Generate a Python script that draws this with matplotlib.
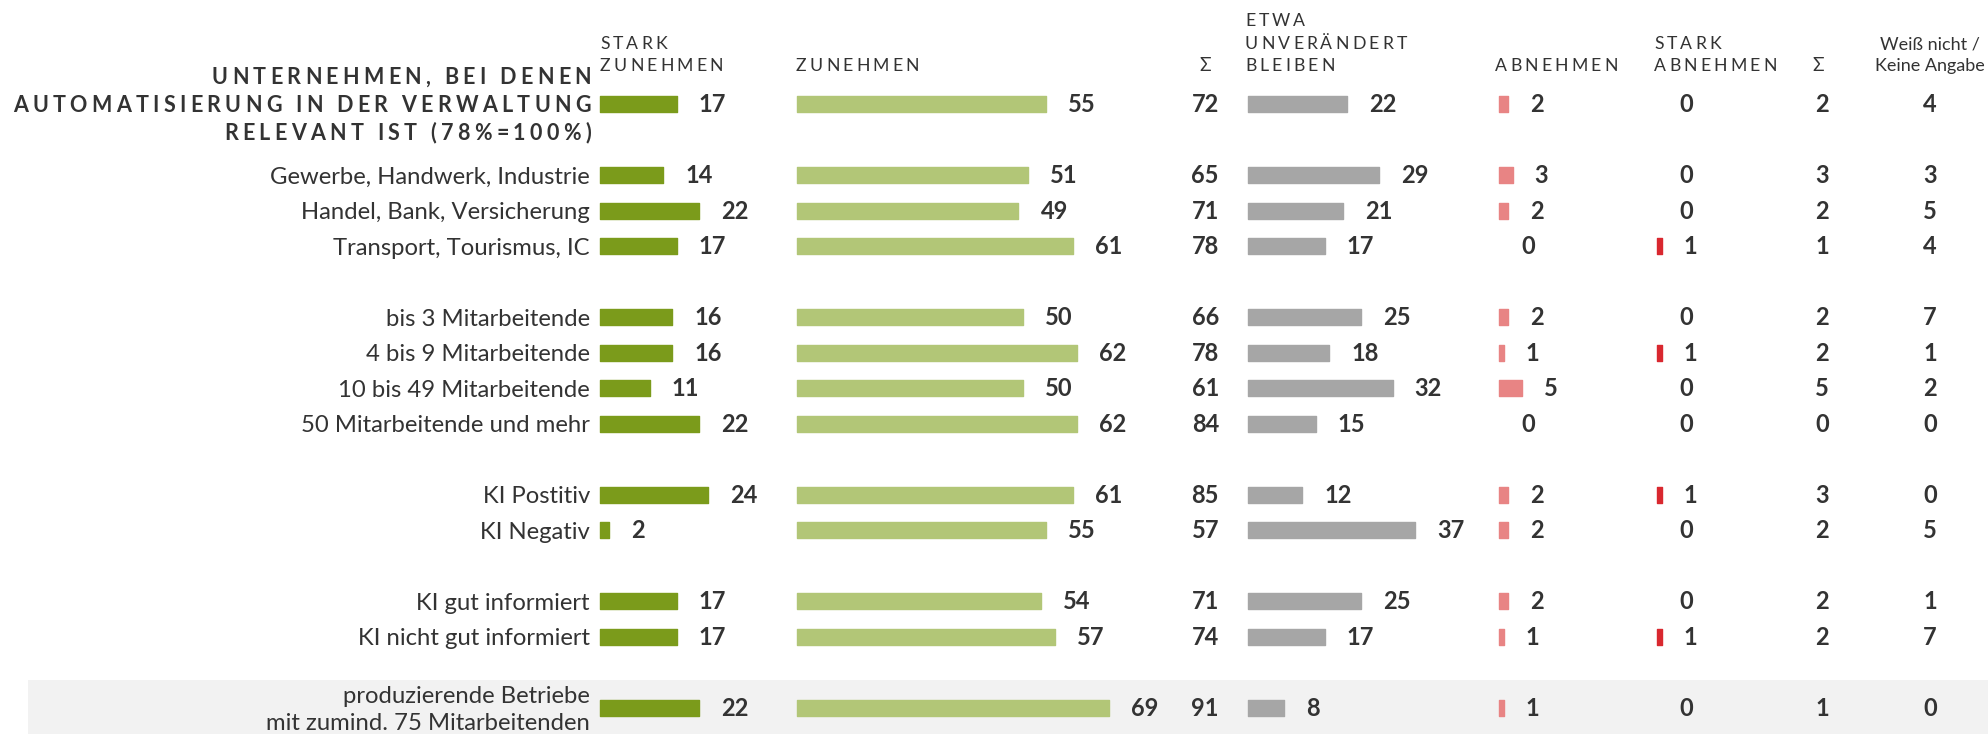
"""
Automatisierung in der Verwaltung: erwartete Entwicklung nach Gruppen.
"""

import matplotlib

matplotlib.use("Agg")
import matplotlib.pyplot as plt
import numpy as np
from matplotlib.font_manager import FontProperties, findfont, get_font
from matplotlib.patches import Rectangle

# --- data -------------------------------------------------------------------
TITLE_LINES = [
    "UNTERNEHMEN, BEI DENEN",
    "AUTOMATISIERUNG IN DER VERWALTUNG",
    "RELEVANT IST (78%=100%)",
]
categories = [
    None,  # first row is labelled by the title block
    "Gewerbe, Handwerk, Industrie",
    "Handel, Bank, Versicherung",
    "Transport, Tourismus, IC",
    "bis 3 Mitarbeitende",
    "4 bis 9 Mitarbeitende",
    "10 bis 49 Mitarbeitende",
    "50 Mitarbeitende und mehr",
    "KI Postitiv",
    "KI Negativ",
    "KI gut informiert",
    "KI nicht gut informiert",
    "produzierende Betriebe\nmit zumind. 75 Mitarbeitenden",
]
row_slots = [0, 2, 3, 4, 6, 7, 8, 9, 11, 12, 14, 15, 17]

stark_zunehmen = [17, 14, 22, 17, 16, 16, 11, 22, 24, 2, 17, 17, 22]
zunehmen = [55, 51, 49, 61, 50, 62, 50, 62, 61, 55, 54, 57, 69]
summe_zu = [72, 65, 71, 78, 66, 78, 61, 84, 85, 57, 71, 74, 91]
unveraendert = [22, 29, 21, 17, 25, 18, 32, 15, 12, 37, 25, 17, 8]
abnehmen = [2, 3, 2, 0, 2, 1, 5, 0, 2, 2, 2, 1, 1]
stark_abnehmen = [0, 0, 0, 1, 0, 1, 0, 0, 1, 0, 0, 1, 0]
summe_ab = [2, 3, 2, 1, 2, 2, 5, 0, 3, 2, 2, 2, 1]
weiss_nicht = [4, 3, 5, 4, 7, 1, 2, 0, 0, 5, 1, 7, 0]

# --- style ------------------------------------------------------------------
W, H, DPI = 1988, 734, 100
TEXT = "#333333"
DARK_GREEN = "#7b9b1b"
LIGHT_GREEN = "#b2c677"
GREY = "#a6a6a6"
PINK = "#e88484"
RED = "#d9282f"
BAND = "#f2f2f2"

PX_PER_PCT = 4.52
BAR_H = 16
PAD = 22
ROW0_Y = 104
ROW_STEP = 35.5
LABEL_RIGHT = 590

LABEL_SIZE = 17.2
NUM_SIZE = 17
HEAD_SIZE = 12.7
TITLE_SIZE = 15.5
CAP = 0.7165  # Lato cap height in em


def cap_px(size):
    return CAP * size * DPI / 72


def spaced_text(ax, x, y, text, size, weight="normal", tracking=0.0, ha="left"):
    """Draw letter-spaced text; y is the visual centre of the capitals."""
    prop = FontProperties(family="Lato", size=size, weight=weight)
    font = get_font(findfont(prop))
    font.set_size(size, DPI)
    advances = [font.load_char(ord(c)).linearHoriAdvance / 65536 for c in text]
    track = tracking * size * DPI / 72
    total = sum(advances) + track * (len(text) - 1)
    pen = {"left": x, "center": x - total / 2, "right": x - total}[ha]
    base = y + cap_px(size) / 2
    for ch, adv in zip(text, advances):
        if ch != " ":
            ax.text(pen, base, ch, fontproperties=prop, color=TEXT,
                    ha="left", va="baseline")
        pen += adv + track


fig = plt.figure(figsize=(W / DPI, H / DPI), dpi=DPI)
ax = fig.add_axes([0, 0, 1, 1])
ax.set_xlim(0, W)
ax.set_ylim(H, 0)
ax.axis("off")

row_y = ROW0_Y + ROW_STEP * np.array(row_slots)

# shaded last row
ax.add_patch(Rectangle((28, row_y[-1] - 28), W - 28, H - row_y[-1] + 28,
                       color=BAND, zorder=0, lw=0))

# bar columns: (values, left edge, colour)
bar_columns = [
    (stark_zunehmen, 600, DARK_GREEN),
    (zunehmen, 797, LIGHT_GREEN),
    (unveraendert, 1248, GREY),
    (abnehmen, 1499, PINK),
    (stark_abnehmen, 1657, RED),
]
for values, left, colour in bar_columns:
    widths = np.array(values) * PX_PER_PCT
    bars = ax.barh(row_y, widths, left=left, height=BAR_H, color=colour,
                   edgecolor=colour, linewidth=1.0, zorder=2)
    for b in bars:
        b.set_joinstyle("round")
        if b.get_width() == 0:
            b.set_visible(False)
    for yy, w, v in zip(row_y, widths, values):
        ax.text(left + w + PAD, yy + cap_px(NUM_SIZE) / 2, f"{v}",
                family="Lato", weight="bold", size=NUM_SIZE, color=TEXT,
                ha="left", va="baseline", zorder=3)

# plain number columns
for values, x, ha in [(summe_zu, 1219, "right"), (summe_ab, 1822, "center"),
                      (weiss_nicht, 1930, "center")]:
    for yy, v in zip(row_y, values):
        ax.text(x, yy + cap_px(NUM_SIZE) / 2, f"{v}", family="Lato",
                weight="bold", size=NUM_SIZE, color=TEXT, ha=ha,
                va="baseline", zorder=3)

# row labels
for yy, label in zip(row_y, categories):
    if label is None:
        continue
    lines = label.split("\n")
    offsets = (np.arange(len(lines)) - (len(lines) - 1) / 2) * 27
    for line, off in zip(lines, offsets):
        ax.text(LABEL_RIGHT, yy + off + cap_px(LABEL_SIZE) / 2, line,
                family="Lato", size=LABEL_SIZE, color=TEXT, ha="right",
                va="baseline")

# title block next to the first row
for i, line in enumerate(TITLE_LINES):
    spaced_text(ax, 591, row_y[0] + (i - 1) * 28, line, TITLE_SIZE,
                weight="bold", tracking=0.2, ha="right")

# column headers
headers = [
    (600, ["STARK", "ZUNEHMEN"]),
    (796, ["ZUNEHMEN"]),
    (1245, ["ETWA", "UNVERÄNDERT", "BLEIBEN"]),
    (1495, ["ABNEHMEN"]),
    (1654, ["STARK", "ABNEHMEN"]),
]
for x, lines in headers:
    for j, line in enumerate(reversed(lines)):
        spaced_text(ax, x, 64.5 - 22.3 * j, line, HEAD_SIZE, tracking=0.18)

for x in (1205, 1818):
    ax.text(x, 65 + cap_px(HEAD_SIZE) / 2, "Σ", family=["Lato", "DejaVu Sans"],
            size=HEAD_SIZE + 1, color=TEXT, ha="center", va="baseline")

for j, line in enumerate(["Weiß nicht /", "Keine Angabe"]):
    ax.text(1930, 43 + 21.5 * j + cap_px(13) / 2, line, family="Lato",
            size=13, color=TEXT, ha="center", va="baseline")

fig.savefig("out.png", dpi=DPI)
